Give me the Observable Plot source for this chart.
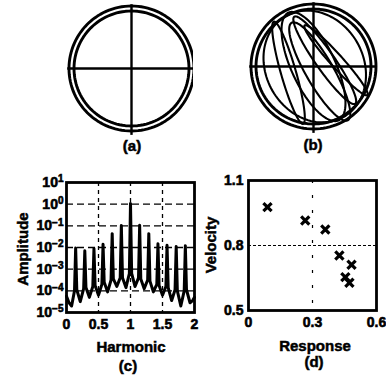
<!DOCTYPE html>
<html><head><meta charset="utf-8">
<script src="https://cdn.jsdelivr.net/npm/d3@7"></script>
<script src="https://cdn.jsdelivr.net/npm/@observablehq/plot@0.6"></script>
<style>
html,body{margin:0;padding:0;background:#fff;}
#fig{position:relative;width:386px;height:377px;overflow:hidden;font-family:"Liberation Sans",Arial,sans-serif;color:#000;background:#fff;}
.panel{position:absolute;}
.panel svg{max-width:none;background:transparent;}
.panel svg text{paint-order:stroke;stroke:#000;stroke-width:0.6px;}
.lbl{position:absolute;font-weight:bold;font-size:15px;white-space:nowrap;transform:translate(-50%,-50%);line-height:1;-webkit-text-stroke:0.5px #000;}
.rot{transform:translate(-50%,-50%) rotate(-90deg);}
</style></head><body><div id="fig"></div>
<script>
// ---------- (a),(b) phase portraits: unit = outer ring radius ----------
const ringRadius = [1.0, 0.92];
// trajectory loops in (b): centre, semi-axes, tilt (deg)
const orbitCx   = [-0.40, 0.00, 0.18, 0.36, 0.10, 0.02];
const orbitCy   = [-0.10, 0.00, 0.10, 0.10, -0.08, 0.00];
const orbitA    = [0.85, 0.95, 0.85, 0.75, 0.90, 0.93];
const orbitB    = [0.12, 0.35, 0.15, 0.10, 0.22, 0.78];
const orbitTilt = [-74, -65, -55, -48, -60, -60];

// ---------- (c) amplitude spectrum ----------
const spectrumHarmonic = [0.00,0.04,0.08,0.125,0.143,0.161,0.215,0.268,0.286,0.304,0.357,0.411,0.429,0.447,0.50,0.553,0.571,0.589,0.643,0.696,0.714,0.732,0.786,0.839,0.857,0.875,0.929,0.982,1.00,1.018,1.071,1.125,1.143,1.161,1.214,1.268,1.286,1.304,1.357,1.411,1.429,1.447,1.50,1.553,1.571,1.589,1.643,1.696,1.714,1.732,1.786,1.839,1.857,1.875,1.93,1.97,2.00];
const spectrumLog10    = [-4.25,-4.55,-4.7,-4.0,-2.02,-3.95,-4.5,-3.9,-2.15,-3.85,-4.3,-3.8,-2.05,-3.75,-4.2,-3.7,-1.85,-3.6,-4.05,-3.5,-1.36,-3.45,-3.8,-3.4,-0.98,-3.4,-3.85,-3.2,0.03,-3.2,-3.8,-3.4,-0.97,-3.45,-3.9,-3.5,-1.36,-3.55,-4.05,-3.7,-1.83,-3.75,-4.2,-3.8,-1.9,-3.85,-4.45,-3.95,-1.95,-4.0,-4.7,-4.0,-1.92,-3.95,-4.55,-4.45,-4.3];
const harmonicTicks  = [0, 0.5, 1, 1.5, 2];
const harmonicLabels = ["0", "0.5", "1", "1.5", "2"];
const harmonicGrid   = [0.5, 1, 1.5];
const amplitudeTicks = [1e-5, 1e-4, 1e-3, 1e-2, 1e-1, 1, 10];
const amplitudeGrid  = [1e-4, 1e-3, 1e-2, 1e-1, 1];

// ---------- (d) velocity vs response ----------
const responseVals = [0.089, 0.266, 0.360, 0.426, 0.483, 0.454, 0.473];
const velocityVals = [0.977, 0.915, 0.874, 0.754, 0.711, 0.654, 0.628];
const responseTicks = [0, 0.3, 0.6];
const velocityTicks = [0.5, 0.8, 1.1];
const responseGrid = [0.3];
const velocityGrid = [0.8];

const fig = document.getElementById("fig");
const FONT = '"Liberation Sans", Arial, sans-serif';

function place(node, left, top) {
  const d = document.createElement("div");
  d.className = "panel";
  d.style.left = left + "px"; d.style.top = top + "px";
  d.appendChild(node); fig.appendChild(d);
}
function label(text, x, y, rotate) {
  const d = document.createElement("div");
  d.className = "lbl" + (rotate ? " rot" : "");
  d.textContent = text;
  d.style.left = x + "px"; d.style.top = y + "px";
  fig.appendChild(d);
}

// ring / orbit geometry sampled from the read parameters
const angles = d3.range(0, 361, 3).map(d => d * Math.PI / 180);
function ringPoints(ids) {
  return ids.flatMap(i => angles.map(t => ({id: "r" + i, u: ringRadius[i] * Math.cos(t), v: ringRadius[i] * Math.sin(t)})));
}
function orbitPoints() {
  return orbitCx.flatMap((cx, i) => {
    const th = orbitTilt[i] * Math.PI / 180, a = orbitA[i], b = orbitB[i], cy = orbitCy[i];
    return angles.map(t => ({
      id: "o" + i,
      u: cx + a * Math.cos(th) * Math.cos(t) - b * Math.sin(th) * Math.sin(t),
      v: cy + a * Math.sin(th) * Math.cos(t) + b * Math.cos(th) * Math.sin(t)
    }));
  });
}

function portrait(withOrbits, cxPx, cyPx, R) {
  const W = 193, H = 140;
  const marks = [
    Plot.line(ringPoints([0, 1]), {x: "u", y: "v", z: "id", stroke: "black", strokeWidth: 2.9}),
    Plot.ruleY([0], {x1: -1.02, x2: 1.02, stroke: "black", strokeWidth: 2.4}),
    Plot.ruleX([0], {y1: 1.02, y2: -1.07, stroke: "black", strokeWidth: 2.4})
  ];
  if (withOrbits) marks.push(Plot.line(orbitPoints(), {x: "u", y: "v", z: "id", stroke: "black", strokeWidth: 2.1, curve: "linear"}));
  return Plot.plot({
    width: W, height: H, margin: 0,
    x: {domain: [-cxPx / R, (W - cxPx) / R], axis: null},
    y: {domain: [(cyPx - H) / R, cyPx / R], axis: null},
    marks
  });
}

place(portrait(false, 131, 68, 62.5), 0, 0);
place(portrait(true, 313 - 193, 66, 62.5), 193, 0);
label("(a)", 132, 145);
label("(b)", 313, 144);

// ---------- (c) ----------
const spectrum = spectrumHarmonic.map((h, i) => ({h, a: 10 ** spectrumLog10[i]}));
const plotC = Plot.plot({
  width: 200, height: 207,
  marginLeft: 66, marginRight: 6, marginTop: 12, marginBottom: 65,
  style: {fontFamily: FONT, fontSize: "14px", fontWeight: "bold", background: "transparent", overflow: "visible"},
  x: {domain: [0, 2], ticks: harmonicTicks, tickFormat: d => harmonicLabels[harmonicTicks.indexOf(d)], tickSize: 0, tickPadding: 7, label: null},
  y: {type: "log", domain: [1e-5, 10], ticks: amplitudeTicks, tickFormat: d => "10^" + Math.round(Math.log10(d)), tickSize: 0, tickPadding: 3, label: null},
  marks: [
    Plot.ruleX(harmonicGrid, {stroke: "black", strokeWidth: 1.3, strokeDasharray: "4,4"}),
    Plot.ruleY(amplitudeGrid, {stroke: "black", strokeWidth: 1.3, strokeDasharray: "7,4"}),
    Plot.line(spectrum, {x: "h", y: "a", stroke: "black", strokeWidth: 3, strokeLinejoin: "round"}),
    Plot.frame({stroke: "black", strokeWidth: 2.8})
  ]
});
// superscript exponents
d3.select(plotC).selectAll("text").each(function() {
  const t = this.textContent;
  if (t.startsWith("10^")) {
    const e = t.slice(3).replace("-", "\u2212");
    this.textContent = "10";
    d3.select(this).append("tspan").attr("dy", "-0.45em").attr("font-size", "10px").text(e);
  }
});
place(plotC, 0, 170);
label("Amplitude", 22, 249, true);
label("Harmonic", 131, 346);
label("(c)", 128, 365);

// ---------- (d) ----------
const pts = responseVals.map((r, i) => ({r, v: velocityVals[i]}));
const plotD = Plot.plot({
  width: 193, height: 209,
  marginLeft: 55, marginRight: 10, marginTop: 12, marginBottom: 67,
  style: {fontFamily: FONT, fontSize: "14px", fontWeight: "bold", background: "transparent", overflow: "visible"},
  x: {domain: [0, 0.6], ticks: responseTicks, tickFormat: d => d === 0 ? "0" : d3.format(".1f")(d), tickSize: 0, tickPadding: 7, label: null},
  y: {domain: [0.5, 1.1], ticks: velocityTicks, tickFormat: d3.format(".1f"), tickSize: 0, tickPadding: 5, label: null},
  marks: [
    Plot.ruleX(responseGrid, {stroke: "black", strokeWidth: 1.2, strokeDasharray: "3,12"}),
    Plot.ruleY(velocityGrid, {stroke: "black", strokeWidth: 1.2, strokeDasharray: "3,2"}),
    Plot.dot(pts, {x: "r", y: "v", symbol: "times", r: 3.8, stroke: "black", strokeWidth: 3.2}),
    Plot.frame({stroke: "black", strokeWidth: 2.8})
  ]
});
place(plotD, 193, 168);
label("Velocity", 210, 245, true);
label("Response", 315, 345);
label("(d)", 314, 361);
</script></body></html>
